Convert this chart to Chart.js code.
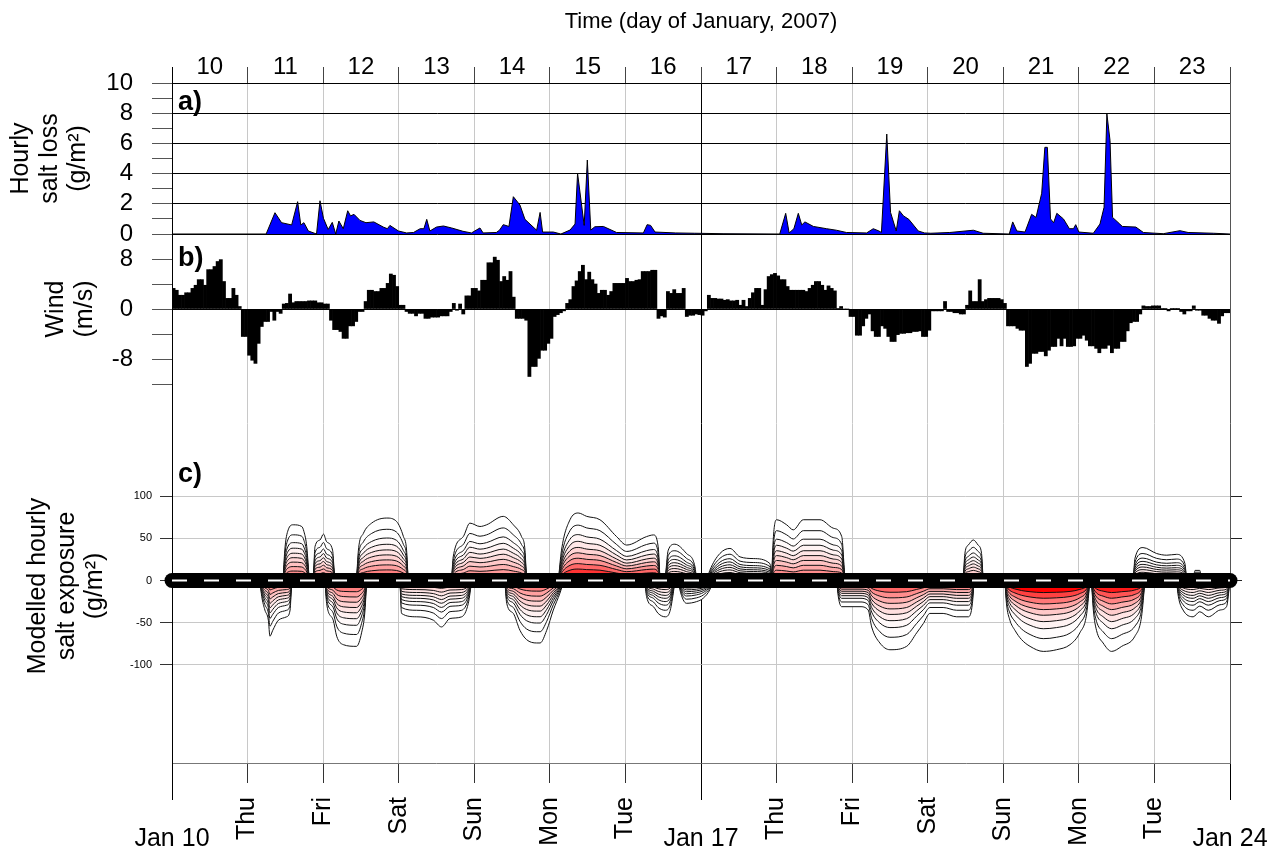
<!DOCTYPE html>
<html>
<head>
<meta charset="utf-8">
<title>Salt loss, wind and modelled salt exposure, January 2007</title>
<script src="https://cdn.jsdelivr.net/npm/chart.js@4.4.1/dist/chart.umd.min.js"></script>
<style>
  html, body { margin: 0; padding: 0; background: #fff; }
  #wrap { width: 1277px; height: 850px; }
</style>
</head>
<body>
<div id="wrap"><canvas id="myChart" width="1277" height="850"></canvas></div>
<script>
// ---------------------------------------------------------------
// data (x is hours after 00:00 on Jan 10)
// ---------------------------------------------------------------
const topDayLabels = ['10','11','12','13','14','15','16','17','18','19','20','21','22','23'];
const bottomDayLabels = ['', 'Thu','Fri','Sat','Sun','Mon','Tue','', 'Thu','Fri','Sat','Sun','Mon','Tue',''];
const weekHours = [0, 168, 336];
const weekLabels = ['Jan 10', 'Jan 17', 'Jan 24'];

// a) hourly salt loss (g/m2)
const saltHours = [0, 29.9, 32.7, 34.8, 38, 39.9, 40.9, 41.9, 43.3, 45.9, 47, 48.1, 49.6, 50.9, 52, 53, 54.4, 55.8, 56.7, 57.8,
  59.7, 61.6, 64.1, 67.1, 68.4, 69.2, 71.9, 74.5, 76.7, 78.8, 80, 80.9, 81.9, 84, 86.2, 88.8, 92.4, 95.1, 97.8, 98.8,
  103, 104, 105.2, 107, 108.4, 110.5, 112.1, 115.8, 116.9, 117.7, 121.1, 123.5, 126.4, 128, 128.8, 130.9, 131.9, 133, 134.3, 137,
  141.2, 149.7, 150.9, 152, 153.4, 160, 166, 175, 193, 194.9, 196, 197.5, 198.9, 200, 201, 203.7, 207.9, 211, 214.2, 220.6,
  222.7, 224.5, 225.3, 227, 228.2, 230, 231, 232.3, 234, 237, 239, 241, 247, 254.5, 257.6, 265.9, 267, 268.3, 270.9, 273,
  274.4, 276.2, 277.2, 278, 279, 280, 281, 283.1, 285, 286.3, 287, 288, 292.6, 294.7, 296, 296.9, 297.9, 298.7, 301, 301.8,
  306.1, 308.5, 314.8, 320.1, 322.7, 330.7, 336];
const saltLoss = [0, 0, 1.41, 0.75, 0.6, 2.14, 0.6, 0.75, 0.2, 0, 2.2, 1.04, 0.3, 0.77, 0, 0.86, 0.35, 1.54, 1.2, 1.3,
  0.9, 0.75, 0.8, 0.46, 0.35, 0.57, 0.2, 0.07, 0.1, 0.35, 0.35, 0.97, 0.2, 0.46, 0.53, 0.4, 0.18, 0.07, 0.4, 0.07,
  0.1, 0.25, 0.62, 0.5, 2.47, 1.92, 0.97, 0.25, 1.43, 0.13, 0.13, 0, 0.26, 0.66, 4.02, 0.57, 4.9, 0.26, 0.48, 0.5,
  0.1, 0.07, 0.62, 0.57, 0.13, 0.07, 0.05, 0.02, 0, 1.37, 0.07, 0.35, 1.37, 0.6, 0.8, 0.5, 0.35, 0.25, 0.1, 0.07,
  0.35, 0.2, 0.1, 6.62, 1.43, 0.2, 1.54, 1.2, 0.97, 0.2, 0.07, 0.05, 0.1, 0.25, 0.05, 0, 0.8, 0.2, 0.13, 1.3,
  1.1, 2.7, 5.74, 5.74, 1.0, 0.75, 1.37, 1.0, 0.35, 0.35, 0.62, 0.13, 0.05, 0.66, 1.77, 7.95, 6.2, 1.1, 0.66, 0.5,
  0.46, 0.1, 0.02, 0.22, 0.1, 0.05, 0];

// b) hourly wind (m/s), one row per day
const windSpeed = [
  3.3, 3.0, 2.2, 2.2, 2.6, 2.6, 3.3, 3.8, 4.7, 4.7, 3.8, 6.3, 6.3, 6.8, 7.6, 7.9, 4.4, 1.7, 1.7, 3.3, 2.2, 0.4, -4.4, -4.4,
  -7.4, -8.2, -8.7, -5.5, -2.8, -2.0, -2.0, -0.4, -1.8, -0.4, -0.7, 0.8, 0.9, 2.4, 1.0, 1.2, 1.2, 1.2, 1.2, 1.3, 1.3, 1.3, 1.0, 1.0,
  0.8, 0.8, -1.8, -3.3, -3.3, -3.6, -4.7, -4.7, -2.7, -2.7, -2.0, -0.4, -0.4, 1.2, 3.0, 3.0, 2.8, 2.8, 3.3, 3.3, 4.1, 5.6, 5.4, 3.6,
  0.6, 0.6, -0.4, -0.7, -0.7, -1.1, -0.7, -0.7, -1.5, -1.5, -1.3, -1.3, -1.3, -1.1, -1.1, -1.1, -0.4, 0.9, -0.2, 0.8, -0.8, 2.1, 2.1, 3.3,
  3.3, 2.9, 4.6, 4.6, 7.4, 7.4, 8.3, 7.8, 4.4, 5.2, 4.6, 6.0, 1.9, -1.5, -1.5, -1.5, -1.8, -10.8, -9.2, -9.2, -7.9, -6.6, -6.6, -5.5,
  -4.7, -1.2, -0.9, -0.6, -0.3, 0.9, 1.5, 3.6, 4.5, 6.0, 7.0, 4.7, 5.9, 4.7, 4.0, 2.5, 3.0, 3.0, 2.2, 2.8, 4.1, 4.1, 4.1, 4.1,
  4.9, 4.4, 4.4, 4.6, 4.7, 6.0, 6.0, 6.0, 6.2, 6.2, -1.5, -1.1, -1.3, 2.8, 2.5, 3.1, 2.5, 2.5, 3.3, -1.2, -1.0, -1.0, -0.8, -0.9,
  -1.0, -0.3, 2.2, 1.7, 1.7, 1.6, 1.6, 1.4, 1.5, 1.3, 1.3, 1.4, 0.6, 1.4, 0.4, 1.7, 2.6, 3.3, 3.3, 0.6, 3.1, 5.2, 5.5, 5.7,
  5.3, 4.7, 4.7, 3.6, 3.0, 3.0, 3.0, 3.0, 3.0, 2.8, 3.3, 3.8, 4.4, 4.4, 3.8, 3.0, 3.7, 3.3, 2.9, 0.1, 0.4, 0, 0, -1.2,
  -1.2, -4.2, -4.2, -2.7, -1.5, -0.8, -3.5, -4.4, -4.4, -2.7, -3.1, -4.4, -5.2, -5.2, -4.1, -3.9, -3.9, -3.8, -3.8, -3.6, -3.6, -3.5, -4.4, -4.4,
  -3.4, -0.3, -0.3, -0.3, -0.3, 1.2, -0.4, -0.4, -0.6, -0.6, -0.8, -0.8, 0.6, 2.9, 1.2, 1.2, 4.7, 1.2, 1.5, 1.7, 1.7, 1.7, 1.7, 1.5,
  0.9, -2.7, -2.7, -2.7, -3.1, -3.4, -3.4, -9.2, -8.7, -7.1, -7.1, -6.8, -6.8, -7.5, -6.6, -6.0, -6.0, -4.7, -5.9, -4.7, -6.0, -6.0, -5.9, -4.7,
  -4.7, -4.2, -5.0, -5.9, -5.9, -6.3, -7.0, -6.3, -6.3, -5.8, -7.0, -6.3, -6.3, -5.2, -5.2, -3.5, -2.2, -2.0, -2.0, -0.8, 0.5, 0.4, 0.4, 0.5,
  0.5, 0.5, 0.1, 0.1, -0.3, 0.1, 0.1, 0.1, -0.4, -0.8, -0.3, -0.3, 0.5, -0.2, -0.2, -1.0, -1.0, -1.5, -1.8, -1.8, -2.3, -1.1, -0.6, -0.6
];

// c) modelled exposure: outer contour of each lobe, its colour strength, and contour levels
const lobeHours = [
  [35.3, 35.8, 36.9, 38.5, 41.2, 41.9, 42.8, 43.6],
  [44.9, 45.4, 47.0, 48.1, 49.1, 51.0, 51.5, 51.8],
  [58.6, 59.2, 60.8, 63.4, 68.2, 71.3, 73.5, 74.5, 75.0],
  [88.8, 89.3, 92.5, 94.6, 97.8, 99.9, 105.2, 108.4, 111.0, 112.1, 112.6],
  [122.7, 123.7, 126.4, 129.0, 131.7, 135.9, 141.2, 144.4, 150.7, 152.9, 154.4, 155.0],
  [156.6, 157.6, 159.7, 163.4, 166.1, 166.6],
  [169.8, 170.8, 174.0, 177.2, 180.4, 184.6, 189.9, 190.4],
  [190.4, 191.0, 192.0, 195.2, 197.3, 200.5, 205.8, 210.0, 212.7, 213.7],
  [251.3, 251.8, 252.9, 254.5, 256.0, 257.1, 257.6],
  [305.3, 305.8, 308.4, 312.7, 315.9, 319.0, 321.7, 322.2],
  [324.3, 324.9, 326.4, 327.0],
  [27.9, 28.5, 29.5, 30.6, 31.1, 32.0, 33.8, 36.4, 37.5, 38.0],
  [48.6, 49.1, 51.2, 52.3, 54.4, 58.6, 60.2, 61.3, 61.8],
  [72.4, 72.9, 77.7, 83.0, 85.6, 88.3, 92.0, 94.1, 95.2],
  [105.7, 106.3, 108.4, 110.5, 112.6, 115.8, 116.9, 119.0, 121.1, 123.2, 124.5],
  [150.2, 150.7, 152.9, 154.4, 156.6, 158.1, 159.2, 159.7],
  [160.8, 161.3, 163.4, 166.6, 168.7, 170.8, 171.9],
  [211.1, 211.6, 212.7, 218.5, 221.1, 222.2, 224.8, 228.0, 233.3, 236.5, 238.6, 240.7, 244.9, 249.2, 252.9, 254.2, 254.7],
  [264.5, 265.0, 266.1, 267.7, 269.8, 272.5, 276.7, 280.9, 285.2, 288.3, 290.5, 291.5],
  [292.0, 292.6, 293.6, 295.7, 298.4, 301.6, 305.8, 307.9, 309.0],
  [319.0, 319.6, 321.1, 324.3, 326.4, 329.1, 332.8, 334.9, 336.0]
];
const lobeOuter = [
  [0, 35, 60, 66, 64, 58, 40, 0],
  [0, 40, 48, 55, 46, 36, 12, 0],
  [0, 36, 56, 68, 74, 70, 52, 36, 0],
  [0, 28, 52, 68, 64, 66, 76, 66, 52, 36, 0],
  [0, 36, 72, 80, 76, 72, 52, 42, 52, 54, 40, 0],
  [0, 36, 43, 32, 16, 0],
  [0, 12, 32, 38, 28, 26, 20, 0],
  [0, 52, 72, 66, 60, 72, 72, 62, 52, 0],
  [0, 32, 42, 48, 42, 32, 0],
  [0, 26, 39, 32, 30, 31, 20, 0],
  [0, 12, 12, 0],
  [0, -19, -35, -47, -66, -59, -47, -43, -35, 0],
  [0, -27, -47, -66, -76, -78, -62, -35, 0],
  [0, -39, -43, -47, -55, -45, -43, -27, 0],
  [0, -27, -39, -59, -70, -74, -74, -59, -35, -15, 0],
  [0, -19, -31, -39, -43, -37, -15, 0],
  [0, -11, -27, -25, -21, -11, 0],
  [0, -19, -31, -31, -35, -55, -74, -82, -78, -62, -51, -39, -39, -43, -43, -27, 0],
  [0, -27, -47, -59, -70, -78, -84, -82, -76, -62, -39, 0],
  [0, -35, -59, -74, -84, -78, -66, -43, 0],
  [0, -19, -35, -43, -37, -43, -35, -31, 0]
];
const lobeShade = [0.45, 0.45, 0.5, 0.4, 0.8, 0.2, 0.1, 0.45, 0.25, 0.15, 0.05,
                   0.45, 0.5, 0.2, 0.5, 0.15, 0.1, 0.6, 1.0, 0.9, 0.15];
const contourLevels = [1, 0.82, 0.68, 0.58, 0.49, 0.41, 0.33, 0.25, 0.17];

// ---------------------------------------------------------------
// layout of the stacked panels (pixel heights of the left axes)
// ---------------------------------------------------------------
const hA = 151, hB = 150, hGap = 91, hC = 222, hGap2 = 66;
const cMax = 125, cMin = -138;
const cPx = hC / (cMax - cMin);
const cBottomValue = cMin - hGap2 / cPx;   // value of panel c scale at the bottom axis line

Chart.defaults.font.family = '"Liberation Sans", Arial, sans-serif';
Chart.defaults.color = '#000';

const leftWidth = (s) => { s.width = 172; };
const noGrid = { display: false };

function contourColor(shade, k) {
  const t = shade * Math.pow(k / (contourLevels.length - 1), 2.2);
  const gb = Math.round(255 * (1 - t));
  return 'rgb(255,' + gb + ',' + gb + ')';
}

const datasets = [];
// zero line of panel c (white dashes over a thick black band)
datasets.push({
  type: 'line', xAxisID: 'x', yAxisID: 'yC',
  data: [{x: 0, y: 0}, {x: 336, y: 0}],
  borderColor: '#fff', borderWidth: 2, borderDash: [15, 17],
  pointRadius: 0, fill: false, clip: false
});
datasets.push({
  type: 'line', xAxisID: 'x', yAxisID: 'yC',
  data: [{x: 0, y: 0}, {x: 336, y: 0}],
  borderColor: '#000', borderWidth: 15, borderCapStyle: 'round',
  pointRadius: 0, fill: false, clip: false
});
datasets.push({
  type: 'line', xAxisID: 'x', yAxisID: 'yA',
  data: saltHours.map((h, i) => ({x: h, y: saltLoss[i]})),
  borderColor: '#000', borderWidth: 1, backgroundColor: '#0000ff',
  fill: 'origin', pointRadius: 0, tension: 0
});
datasets.push({
  type: 'bar', xAxisID: 'x', yAxisID: 'yB',
  data: windSpeed.map((v, i) => ({x: i + 0.5, y: v})),
  backgroundColor: '#000', borderWidth: 0,
  barPercentage: 1, categoryPercentage: 1
});
// contours, innermost first so they end up on top
for (let k = contourLevels.length - 1; k >= 0; k--) {
  lobeHours.forEach((hours, j) => {
    datasets.push({
      type: 'line', xAxisID: 'x', yAxisID: 'yC',
      data: hours.map((h, i) => ({x: h, y: lobeOuter[j][i] * contourLevels[k]})),
      borderColor: '#111', borderWidth: 1,
      backgroundColor: contourColor(lobeShade[j], k),
      fill: 'origin', pointRadius: 0, cubicInterpolationMode: 'monotone'
    });
  });
}

const panelTags = {
  id: 'panelTags',
  afterDraw(chart) {
    const {ctx, chartArea, scales} = chart;
    ctx.save();
    ctx.font = 'bold 27px "Liberation Sans", Arial, sans-serif';
    ctx.fillStyle = '#000';
    ctx.textBaseline = 'middle';
    ctx.fillText('a)', chartArea.left + 6, scales.yA.top + 20);
    ctx.fillText('b)', chartArea.left + 6, scales.yB.top + 25);
    ctx.fillText('c)', chartArea.left + 6, scales.yC.top);
    ctx.restore();
  }
};

const titleFont = {size: 25, lineHeight: 1.14};

const config = {
  type: 'line',
  data: {datasets: datasets},
  plugins: [panelTags],
  options: {
    responsive: false,
    devicePixelRatio: 1,
    animation: false,
    layout: {padding: 0},
    plugins: {legend: {display: false}, tooltip: {enabled: false}},
    scales: {
      x: {
        type: 'linear', position: 'bottom', min: 0, max: 336, offset: false,
        afterBuildTicks: (s) => { s.ticks = bottomDayLabels.map((l, i) => ({value: i * 24})); },
        ticks: {
          autoSkip: false, maxRotation: 90, minRotation: 90, padding: 14,
          font: {size: 25}, color: '#000',
          callback: (v) => bottomDayLabels[Math.round(v / 24)]
        },
        grid: {offset: false, drawOnChartArea: false, tickLength: 20, tickColor: (c) => (c.index % 7 === 0 ? '#000' : '#333')},
        border: {color: '#777'},
        afterFit: (s) => { s.height = 87; s.paddingLeft = 0; s.paddingRight = 0; }
      },
      xJan: {
        type: 'linear', position: {yC: cBottomValue}, min: 0, max: 336, offset: false,
        afterBuildTicks: (s) => { s.ticks = weekHours.map(v => ({value: v})); },
        ticks: {
          autoSkip: false, maxRotation: 0, minRotation: 0, padding: 24,
          font: {size: 25}, color: '#000',
          callback: (v) => weekLabels[weekHours.indexOf(v)]
        },
        grid: {offset: false, drawOnChartArea: false, tickLength: 37, tickColor: '#000'},
        border: {display: false},
        afterFit: (s) => { s.paddingLeft = 0; s.paddingRight = 0; }
      },
      xTop: {
        type: 'category', position: 'top', labels: topDayLabels,
        offset: true,
        ticks: {autoSkip: false, maxRotation: 0, padding: -15, font: {size: 24}, color: '#000'},
        grid: {
          offset: true, tickLength: 16,
          color: (c) => (c.index === 0 || c.index === 7 ? '#000' : (c.index === 14 ? '#666' : '#c8c8c8')),
          tickColor: (c) => (c.index === 0 ? '#000' : '#444')
        },
        border: {color: '#000'},
        title: {display: true, text: 'Time (day of January, 2007)', font: {size: 22}, padding: {top: 9, bottom: 0}},
        afterFit: (s) => { s.height = 83; s.paddingLeft = 0; s.paddingRight = 0; }
      },
      yR: {
        type: 'linear', position: 'right',
        min: cBottomValue, max: cMax + (hA + hB + hGap) / cPx,
        afterBuildTicks: (s) => { s.ticks = [-100, -50, 0, 50, 100].map(v => ({value: v})); },
        ticks: {display: false},
        grid: {drawOnChartArea: false, tickLength: 12, tickColor: '#222'},
        border: {color: '#555'},
        afterFit: (s) => { s.width = 47; }
      },
      // left stack: the last one listed sits on top
      yGap2: {
        type: 'linear', position: 'left', stack: 'panels', stackWeight: hGap2, min: 0, max: 1,
        ticks: {display: false}, grid: noGrid, border: {color: '#000'}, afterFit: leftWidth
      },
      yC: {
        type: 'linear', position: 'left', stack: 'panels', stackWeight: hC, min: cMin, max: cMax,
        afterBuildTicks: (s) => { s.ticks = [-100, -50, 0, 50, 100].map(v => ({value: v})); },
        ticks: {autoSkip: false, padding: 8, font: {size: 11}, color: '#000'},
        grid: {color: '#c8c8c8', tickLength: 12, tickColor: '#333'},
        border: {color: '#000'},
        title: {display: true, text: ['Modelled hourly', 'salt exposure', '(g/m\u00b2)'], font: titleFont, padding: {top: 24, bottom: 0}},
        afterFit: leftWidth
      },
      yGap: {
        type: 'linear', position: 'left', stack: 'panels', stackWeight: hGap, min: 0, max: 1,
        ticks: {display: false}, grid: noGrid, border: {color: '#000'}, afterFit: leftWidth
      },
      yB: {
        type: 'linear', position: 'left', stack: 'panels', stackWeight: hB, min: -12, max: 12,
        ticks: {
          autoSkip: false, stepSize: 4, padding: 19, font: {size: 24}, color: '#000',
          callback: (v) => (v === 8 || v === 0 || v === -8 ? String(v) : '')
        },
        grid: {
          tickLength: 20, tickColor: '#555',
          color: (c) => (c.tick && c.tick.value === 0 ? '#000' : 'rgba(0,0,0,0)')
        },
        border: {color: '#000'},
        title: {display: true, text: ['Wind', '(m/s)'], font: titleFont, padding: {top: 42, bottom: 0}},
        afterFit: leftWidth
      },
      yA: {
        type: 'linear', position: 'left', stack: 'panels', stackWeight: hA, min: 0, max: 10,
        ticks: {
          autoSkip: false, stepSize: 1, padding: 19, font: {size: 24}, color: '#000',
          callback: (v) => (v % 2 === 0 ? String(v) : '')
        },
        grid: {
          tickLength: 20, tickColor: '#555',
          color: (c) => (c.tick && c.tick.value % 2 === 0 ? '#000' : 'rgba(0,0,0,0)')
        },
        border: {color: '#000'},
        title: {display: true, text: ['Hourly', 'salt loss', '(g/m\u00b2)'], font: titleFont, padding: {top: 7, bottom: 0}},
        afterFit: leftWidth
      }
    }
  }
};

const ctx = document.getElementById('myChart');
var chart = new Chart(ctx, config);
</script>
</body>
</html>
